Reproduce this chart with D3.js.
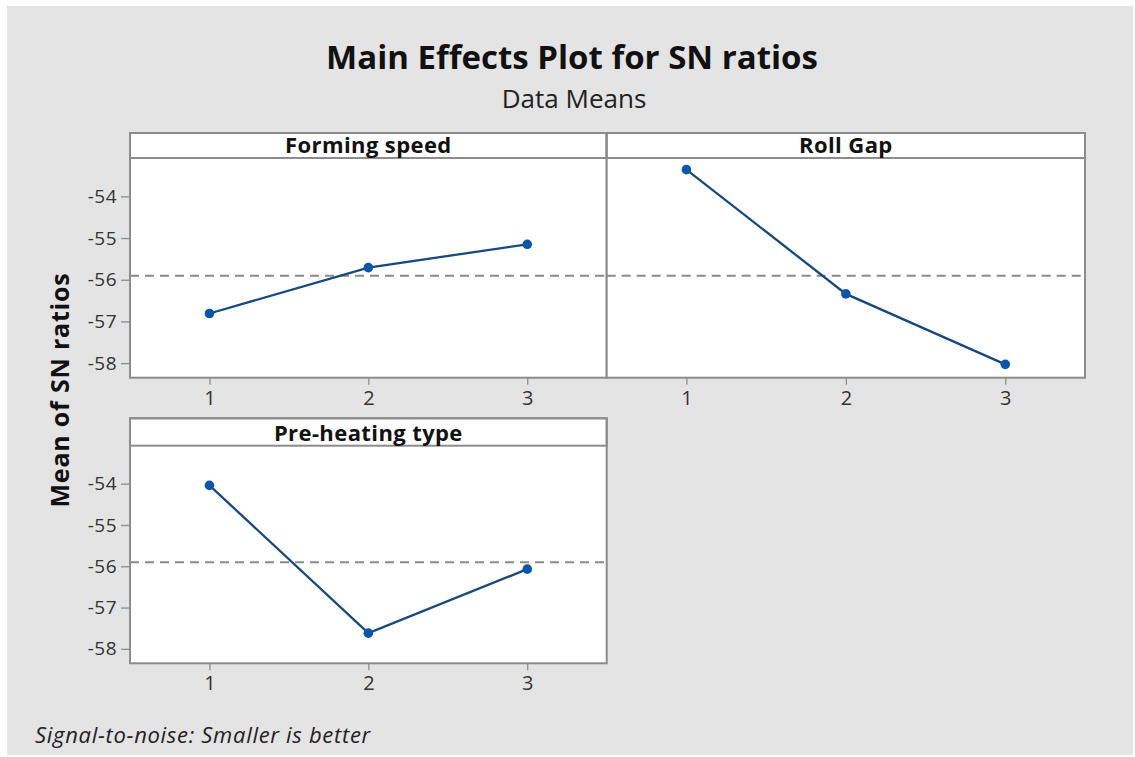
<!DOCTYPE html>
<html>
<head>
<meta charset="utf-8">
<script src="https://cdn.jsdelivr.net/npm/d3@7"></script>
<style>
  html, body { margin: 0; padding: 0; background: #ffffff; }
  svg { display: block; }
  text { font-family: "Open Sans", "Noto Sans", sans-serif; }
</style>
</head>
<body>
<svg id="chart" width="1135" height="757"></svg>
<script>
// Factor levels and mean SN ratio at each level
const levels = [1, 2, 3];
const factors = ["Forming speed", "Roll Gap", "Pre-heating type"];
const formingSpeed = [-56.81, -55.71, -55.15];
const rollGap = [-53.36, -56.34, -58.03];
const preheatingType = [-54.04, -57.62, -56.07];
const yTicks = [-54, -55, -56, -57, -58];

const seriesByFactor = [formingSpeed, rollGap, preheatingType];
const grandMean = d3.mean(seriesByFactor.flat());

const svg = d3.select("#chart");

// figure background
svg.append("rect")
  .attr("x", 7).attr("y", 6).attr("width", 1126).attr("height", 749)
  .attr("fill", "#e4e4e4");

svg.append("text")
  .attr("x", 572).attr("y", 69)
  .attr("text-anchor", "middle")
  .attr("font-size", 33).attr("font-weight", "bold").attr("fill", "#111")
  .text("Main Effects Plot for SN ratios");

svg.append("text")
  .attr("x", 574).attr("y", 108)
  .attr("text-anchor", "middle")
  .attr("font-size", 26).attr("fill", "#222")
  .text("Data Means");

svg.append("text")
  .attr("transform", "translate(69,390) rotate(-90)")
  .attr("text-anchor", "middle")
  .attr("font-size", 25).attr("font-weight", "bold").attr("fill", "#111")
  .attr("letter-spacing", 0.8)
  .text("Mean of SN ratios");

svg.append("text")
  .attr("x", 35).attr("y", 743)
  .attr("font-size", 22).attr("font-style", "italic").attr("fill", "#222")
  .attr("letter-spacing", 0.7)
  .text("Signal-to-noise: Smaller is better");

// panel frames
const panels = [
  { left: 130, right: 606.7, top: 133, head: 158, bottom: 377.7, yAxis: true },
  { left: 606.7, right: 1085, top: 133, head: 158, bottom: 377.7, yAxis: false },
  { left: 130, right: 606.7, top: 418.3, head: 445.7, bottom: 663.3, yAxis: true }
];

const yDomain = [-58.35, -53.08];
const xDomain = [0.5, 3.5];
const frameColor = "#8c8c8c";
const tickFont = "'Open Sans', 'Noto Sans', sans-serif";

panels.forEach((p, i) => {
  const g = svg.append("g");
  const x = d3.scaleLinear().domain(xDomain).range([p.left, p.right]);
  const y = d3.scaleLinear().domain(yDomain).range([p.bottom, p.head]);

  // plot area
  g.append("rect")
    .attr("x", p.left).attr("y", p.top)
    .attr("width", p.right - p.left).attr("height", p.bottom - p.top)
    .attr("fill", "#ffffff");

  // x axis
  const xAxis = g.append("g")
    .attr("transform", `translate(0,${p.bottom})`)
    .call(d3.axisBottom(x).tickValues(levels).tickFormat(d => String(d)).tickSize(7).tickPadding(6));
  xAxis.select(".domain").remove();
  xAxis.selectAll(".tick line").attr("stroke", frameColor).attr("stroke-width", 1.3);
  xAxis.selectAll(".tick text").attr("font-size", 20).attr("fill", "#333")
    .attr("font-family", tickFont);

  if (p.yAxis) {
    const yAxis = g.append("g")
      .attr("transform", `translate(${p.left},0)`)
      .call(d3.axisLeft(y).tickValues(yTicks).tickFormat(d => String(d)).tickSize(9).tickPadding(4));
    yAxis.select(".domain").remove();
    yAxis.selectAll(".tick line").attr("stroke", frameColor).attr("stroke-width", 1.3);
    yAxis.selectAll(".tick text").attr("font-size", 19).attr("fill", "#333")
      .attr("font-family", tickFont).attr("letter-spacing", 0.5);
  }

  // reference line at the overall mean
  g.append("line")
    .attr("x1", p.left).attr("x2", p.right)
    .attr("y1", y(grandMean)).attr("y2", y(grandMean))
    .attr("stroke", "#8a8a8a").attr("stroke-width", 2)
    .attr("stroke-dasharray", "9,6");

  const values = seriesByFactor[i];
  const pts = levels.map((lv, k) => ({ lv, v: values[k] }));

  g.append("path")
    .datum(pts)
    .attr("fill", "none")
    .attr("stroke", "#17497f")
    .attr("stroke-width", 2.3)
    .attr("d", d3.line().x(d => x(d.lv)).y(d => y(d.v)));

  g.selectAll("circle")
    .data(pts)
    .enter().append("circle")
    .attr("cx", d => x(d.lv)).attr("cy", d => y(d.v))
    .attr("r", 4.8)
    .attr("fill", "#0a56a8");

  // header strip with factor name
  g.append("rect")
    .attr("x", p.left).attr("y", p.top)
    .attr("width", p.right - p.left).attr("height", p.head - p.top)
    .attr("fill", "#ffffff").attr("stroke", frameColor).attr("stroke-width", 2);

  g.append("text")
    .attr("x", (p.left + p.right) / 2).attr("y", p.head - 5)
    .attr("text-anchor", "middle")
    .attr("font-size", 22).attr("font-weight", "bold").attr("fill", "#111")
    .attr("letter-spacing", 0.4)
    .text(factors[i]);

  // outer frame
  g.append("rect")
    .attr("x", p.left).attr("y", p.top)
    .attr("width", p.right - p.left).attr("height", p.bottom - p.top)
    .attr("fill", "none").attr("stroke", frameColor).attr("stroke-width", 2);
});
</script>
</body>
</html>
